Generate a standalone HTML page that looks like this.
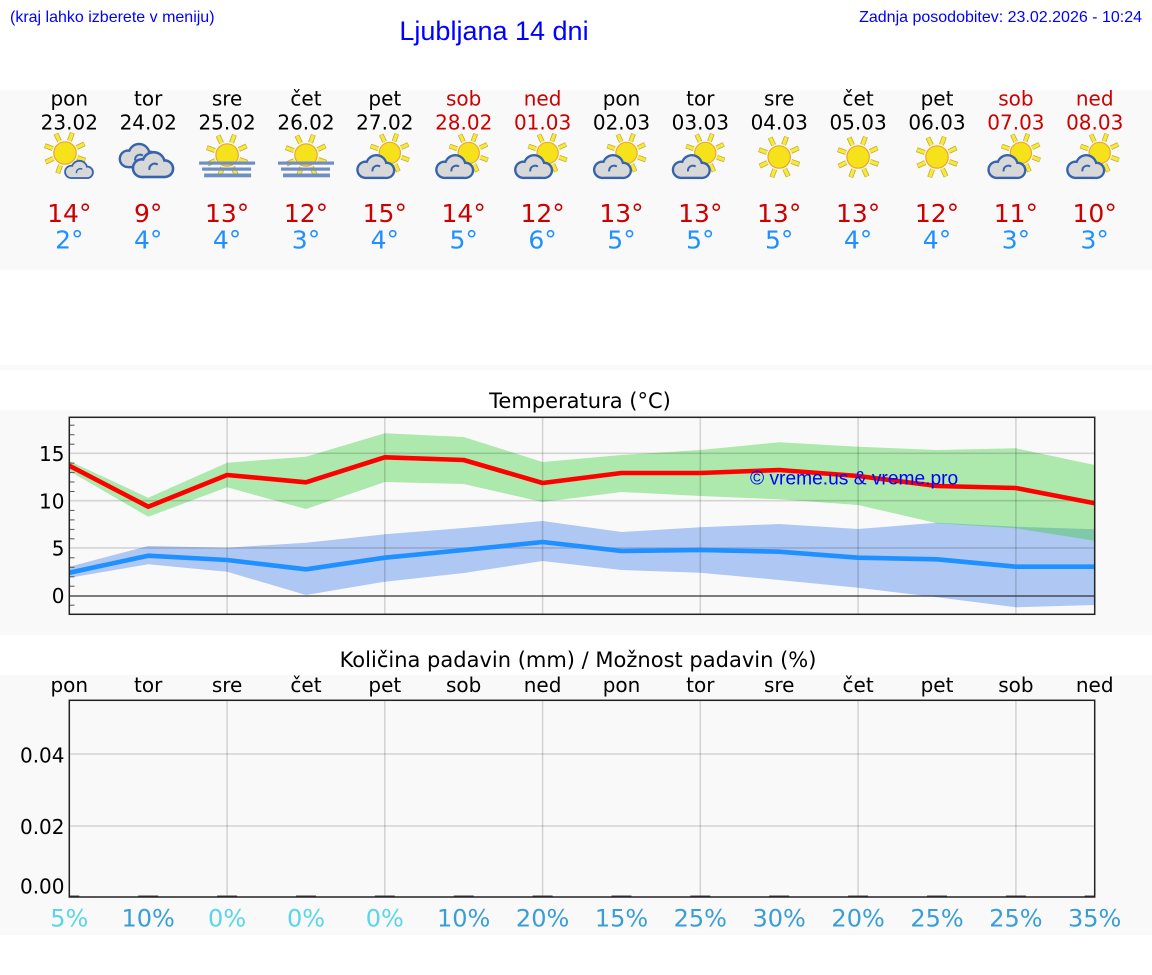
<!DOCTYPE html>
<html>
<head>
<meta charset="utf-8">
<style>
  html,body{margin:0;padding:0;background:#ffffff;}
  svg{display:block;}
</style>
</head>
<body>
<svg width="1152" height="975" viewBox="0 0 1152 975" xmlns="http://www.w3.org/2000/svg">
  <defs>
    <g id="sunI">
      <g transform="rotate(20)">
        <g stroke="#c9a830" stroke-width="5" stroke-linecap="butt">
          <line x1="13" y1="0" x2="21.5" y2="0"/>
          <line x1="9.19" y1="9.19" x2="15.2" y2="15.2"/>
          <line x1="0" y1="13" x2="0" y2="21.5"/>
          <line x1="-9.19" y1="9.19" x2="-15.2" y2="15.2"/>
          <line x1="-13" y1="0" x2="-21.5" y2="0"/>
          <line x1="-9.19" y1="-9.19" x2="-15.2" y2="-15.2"/>
          <line x1="0" y1="-13" x2="0" y2="-21.5"/>
          <line x1="9.19" y1="-9.19" x2="15.2" y2="-15.2"/>
        </g>
        <g stroke="#f4ea3c" stroke-width="3.4" stroke-linecap="butt">
          <line x1="13" y1="0" x2="21" y2="0"/>
          <line x1="9.19" y1="9.19" x2="14.85" y2="14.85"/>
          <line x1="0" y1="13" x2="0" y2="21"/>
          <line x1="-9.19" y1="9.19" x2="-14.85" y2="14.85"/>
          <line x1="-13" y1="0" x2="-21" y2="0"/>
          <line x1="-9.19" y1="-9.19" x2="-14.85" y2="-14.85"/>
          <line x1="0" y1="-13" x2="0" y2="-21"/>
          <line x1="9.19" y1="-9.19" x2="14.85" y2="-14.85"/>
        </g>
      </g>
      <circle cx="0" cy="0" r="11.2" fill="#f5e21a" stroke="#eda52a" stroke-width="1.2"/>
    </g>
    <g id="cloudI">
      <g fill="#3563ae">
        <circle cx="-9.5" cy="3.5" r="8.6"/>
        <circle cx="0.5" cy="-0.5" r="10.6"/>
        <circle cx="10" cy="4" r="8.1"/>
        <rect x="-9.5" y="3.5" width="19.5" height="8.6"/>
      </g>
      <g fill="#d8d8d8">
        <circle cx="-9.5" cy="3.5" r="6.4"/>
        <circle cx="0.5" cy="-0.5" r="8.4"/>
        <circle cx="10" cy="4" r="5.9"/>
        <rect x="-9.5" y="3.5" width="19.5" height="6.4"/>
      </g>
      <path d="M -3,5 a 4.5 4.5 0 0 1 7 -4.5" fill="none" stroke="#3563ae" stroke-width="1.8"/>
    </g>
    <g id="fogI">
      <use href="#sunI" transform="translate(0,-2)"/>
      <rect x="-28" y="4.5" width="56" height="3.2" fill="#6f8fc4"/>
      <rect x="-25" y="10.5" width="49" height="3.2" fill="#6f8fc4"/>
      <rect x="-23" y="16.5" width="47" height="3.8" fill="#6f8fc4"/>
    </g>
    <clipPath id="tclip"><rect x="69.3" y="417.3" width="1025.4" height="197"/></clipPath>
    <clipPath id="pclip"><rect x="69.3" y="700.3" width="1025.4" height="196.7"/></clipPath>
  </defs>

  <!-- header -->
  <g font-family="Liberation Sans, Arial, sans-serif" fill="#0000ff">
    <text x="10" y="22" font-size="16">(kraj lahko izberete v meniju)</text>
    <text x="494" y="40" font-size="27" text-anchor="middle">Ljubljana 14 dni</text>
    <text x="1142" y="22" font-size="16" text-anchor="end">Zadnja posodobitev: 23.02.2026 - 10:24</text>
  </g>

  <!-- panels -->
  <rect x="0" y="90" width="1152" height="180" fill="#f9f9f9"/>
  <rect x="0" y="365" width="1152" height="5" fill="#f9f9f9"/>
  <rect x="0" y="410" width="1152" height="225" fill="#f9f9f9"/>
  <rect x="0" y="675" width="1152" height="260" fill="#f9f9f9"/>

  <!-- day names -->
  <g font-family="DejaVu Sans, sans-serif" font-size="20" text-anchor="middle" fill="#000">
    <text x="69.3" y="105.5">pon</text>
    <text x="148.2" y="105.5">tor</text>
    <text x="227.1" y="105.5">sre</text>
    <text x="306" y="105.5">čet</text>
    <text x="384.8" y="105.5">pet</text>
    <text x="463.7" y="105.5" fill="#cc0000">sob</text>
    <text x="542.6" y="105.5" fill="#cc0000">ned</text>
    <text x="621.5" y="105.5">pon</text>
    <text x="700.3" y="105.5">tor</text>
    <text x="779.2" y="105.5">sre</text>
    <text x="858.1" y="105.5">čet</text>
    <text x="937" y="105.5">pet</text>
    <text x="1015.9" y="105.5" fill="#cc0000">sob</text>
    <text x="1094.7" y="105.5" fill="#cc0000">ned</text>

    <text x="69.3" y="129.5">23.02</text>
    <text x="148.2" y="129.5">24.02</text>
    <text x="227.1" y="129.5">25.02</text>
    <text x="306" y="129.5">26.02</text>
    <text x="384.8" y="129.5">27.02</text>
    <text x="463.7" y="129.5" fill="#cc0000">28.02</text>
    <text x="542.6" y="129.5" fill="#cc0000">01.03</text>
    <text x="621.5" y="129.5">02.03</text>
    <text x="700.3" y="129.5">03.03</text>
    <text x="779.2" y="129.5">04.03</text>
    <text x="858.1" y="129.5">05.03</text>
    <text x="937" y="129.5">06.03</text>
    <text x="1015.9" y="129.5" fill="#cc0000">07.03</text>
    <text x="1094.7" y="129.5" fill="#cc0000">08.03</text>
  </g>

  <!-- icons -->
  <use href="#sunI" transform="translate(65,153)"/>
  <use href="#cloudI" transform="translate(79,169) scale(0.82)"/>
  <use href="#cloudI" transform="translate(138.5,155) scale(1.1)"/>
  <use href="#cloudI" transform="translate(153,164) scale(1.18)"/>
  <use href="#fogI" transform="translate(227.1,157)"/>
  <use href="#fogI" transform="translate(306,157)"/>
  <use href="#sunI" transform="translate(389.8,153) scale(0.95)"/>
  <use href="#cloudI" transform="translate(375.8,166) scale(1.08)"/>
  <use href="#sunI" transform="translate(468.7,153) scale(0.95)"/>
  <use href="#cloudI" transform="translate(454.7,166) scale(1.08)"/>
  <use href="#sunI" transform="translate(547.6,153) scale(0.95)"/>
  <use href="#cloudI" transform="translate(533.6,166) scale(1.08)"/>
  <use href="#sunI" transform="translate(626.5,153) scale(0.95)"/>
  <use href="#cloudI" transform="translate(612.5,166) scale(1.08)"/>
  <use href="#sunI" transform="translate(705.3,153) scale(0.95)"/>
  <use href="#cloudI" transform="translate(691.3,166) scale(1.08)"/>
  <use href="#sunI" transform="translate(779.2,157)"/>
  <use href="#sunI" transform="translate(858.1,157)"/>
  <use href="#sunI" transform="translate(937,157)"/>
  <use href="#sunI" transform="translate(1020.9,153) scale(0.95)"/>
  <use href="#cloudI" transform="translate(1006.9,166) scale(1.08)"/>
  <use href="#sunI" transform="translate(1099.7,153) scale(0.95)"/>
  <use href="#cloudI" transform="translate(1085.7,166) scale(1.08)"/>

  <!-- temps -->
  <g font-family="DejaVu Sans, sans-serif" font-size="25" text-anchor="middle" fill="#cc0000">
    <text x="69.3" y="222">14°</text>
    <text x="148.2" y="222">9°</text>
    <text x="227.1" y="222">13°</text>
    <text x="306" y="222">12°</text>
    <text x="384.8" y="222">15°</text>
    <text x="463.7" y="222">14°</text>
    <text x="542.6" y="222">12°</text>
    <text x="621.5" y="222">13°</text>
    <text x="700.3" y="222">13°</text>
    <text x="779.2" y="222">13°</text>
    <text x="858.1" y="222">13°</text>
    <text x="937" y="222">12°</text>
    <text x="1015.9" y="222">11°</text>
    <text x="1094.7" y="222">10°</text>
  </g>
  <g font-family="DejaVu Sans, sans-serif" font-size="25" text-anchor="middle" fill="#1e90ff">
    <text x="69.3" y="248.5">2°</text>
    <text x="148.2" y="248.5">4°</text>
    <text x="227.1" y="248.5">4°</text>
    <text x="306" y="248.5">3°</text>
    <text x="384.8" y="248.5">4°</text>
    <text x="463.7" y="248.5">5°</text>
    <text x="542.6" y="248.5">6°</text>
    <text x="621.5" y="248.5">5°</text>
    <text x="700.3" y="248.5">5°</text>
    <text x="779.2" y="248.5">5°</text>
    <text x="858.1" y="248.5">4°</text>
    <text x="937" y="248.5">4°</text>
    <text x="1015.9" y="248.5">3°</text>
    <text x="1094.7" y="248.5">3°</text>
  </g>

  <!-- temperature chart -->
  <text x="580" y="408" font-family="DejaVu Sans, sans-serif" font-size="21" text-anchor="middle" fill="#000">Temperatura (°C)</text>
  <rect x="69.3" y="417.3" width="1025.4" height="197" fill="#f9f9f9"/>
  <g clip-path="url(#tclip)">
    <polygon fill="#6495ed" fill-opacity="0.5" points="69.3,566.7 148.2,546 227.1,547.7 306,542.7 384.8,534.3 463.7,528 542.6,521 621.5,532 700.3,527.3 779.2,524 858.1,529 937,522.7 1015.9,526.7 1094.7,529.3 1094.7,605 1015.9,607.3 937,597.3 858.1,587.7 779.2,580 700.3,572.7 621.5,570 542.6,561 463.7,573 384.8,581.7 306,595 227.1,571.7 148.2,564.3 69.3,577.7"/>
    <polygon fill="#32cd32" fill-opacity="0.38" points="69.3,461 148.2,497.7 227.1,462.7 306,456.7 384.8,433.3 463.7,437 542.6,462 621.5,455 700.3,450 779.2,442.3 858.1,446.7 937,450 1015.9,448.3 1094.7,465 1094.7,540.7 1015.9,528.3 937,523.3 858.1,505 779.2,499.3 700.3,496 621.5,492 542.6,502 463.7,484 384.8,482 306,509 227.1,487.3 148.2,516.7 69.3,471"/>
    <g stroke="#000" stroke-opacity="0.15" stroke-width="1.6">
      <line x1="69.3" y1="453.3" x2="1094.7" y2="453.3"/>
      <line x1="69.3" y1="500.7" x2="1094.7" y2="500.7"/>
      <line x1="69.3" y1="547.9" x2="1094.7" y2="547.9"/>
      <line x1="227.1" y1="417.3" x2="227.1" y2="614.3"/>
      <line x1="384.8" y1="417.3" x2="384.8" y2="614.3"/>
      <line x1="542.6" y1="417.3" x2="542.6" y2="614.3"/>
      <line x1="700.3" y1="417.3" x2="700.3" y2="614.3"/>
      <line x1="858.1" y1="417.3" x2="858.1" y2="614.3"/>
      <line x1="1015.9" y1="417.3" x2="1015.9" y2="614.3"/>
    </g>
    <line x1="69.3" y1="596" x2="1094.7" y2="596" stroke="#333" stroke-width="1.2"/>
    <polyline fill="none" stroke="#ff0000" stroke-width="4.6" stroke-linejoin="round" points="69.3,465.7 148.2,506.7 227.1,475 306,482.3 384.8,457.3 463.7,460 542.6,483 621.5,473 700.3,473 779.2,470 858.1,476 937,486 1015.9,488 1094.7,503.3"/>
    <polyline fill="none" stroke="#1e90ff" stroke-width="4.6" stroke-linejoin="round" points="69.3,572.7 148.2,555.7 227.1,560 306,569.3 384.8,557.7 463.7,550 542.6,542 621.5,551 700.3,550 779.2,551.7 858.1,557.7 937,559.3 1015.9,566.7 1094.7,566.7"/>
  </g>
  <g stroke="#555" stroke-width="1">
    <line x1="69.3" y1="605.2" x2="74.5" y2="605.2"/>
    <line x1="69.3" y1="586.2" x2="74.5" y2="586.2"/>
    <line x1="69.3" y1="576.8" x2="74.5" y2="576.8"/>
    <line x1="69.3" y1="567.3" x2="74.5" y2="567.3"/>
    <line x1="69.3" y1="557.8" x2="74.5" y2="557.8"/>
    <line x1="69.3" y1="538.8" x2="74.5" y2="538.8"/>
    <line x1="69.3" y1="529.4" x2="74.5" y2="529.4"/>
    <line x1="69.3" y1="519.9" x2="74.5" y2="519.9"/>
    <line x1="69.3" y1="510.4" x2="74.5" y2="510.4"/>
    <line x1="69.3" y1="491.5" x2="74.5" y2="491.5"/>
    <line x1="69.3" y1="482.0" x2="74.5" y2="482.0"/>
    <line x1="69.3" y1="472.6" x2="74.5" y2="472.6"/>
    <line x1="69.3" y1="463.1" x2="74.5" y2="463.1"/>
    <line x1="69.3" y1="444.2" x2="74.5" y2="444.2"/>
    <line x1="69.3" y1="434.7" x2="74.5" y2="434.7"/>
    <line x1="69.3" y1="425.2" x2="74.5" y2="425.2"/>
  </g>
  <rect x="69.3" y="417.3" width="1025.4" height="197" fill="none" stroke="#222" stroke-width="1.5"/>
  <g font-family="DejaVu Sans, sans-serif" font-size="20" text-anchor="end" fill="#000">
    <text x="64.5" y="461">15</text>
    <text x="64.5" y="508.5">10</text>
    <text x="64.5" y="555.5">5</text>
    <text x="64.5" y="603">0</text>
  </g>
  <text x="750" y="484.5" font-family="Liberation Sans, Arial, sans-serif" font-size="19.2" fill="#0000ff">© vreme.us &amp; vreme.pro</text>

  <!-- precipitation chart -->
  <text x="578" y="667" font-family="DejaVu Sans, sans-serif" font-size="21" text-anchor="middle" fill="#000">Količina padavin (mm) / Možnost padavin (%)</text>
  <g font-family="DejaVu Sans, sans-serif" font-size="20" text-anchor="middle" fill="#000">
    <text x="69.3" y="692">pon</text>
    <text x="148.2" y="692">tor</text>
    <text x="227.1" y="692">sre</text>
    <text x="306" y="692">čet</text>
    <text x="384.8" y="692">pet</text>
    <text x="463.7" y="692">sob</text>
    <text x="542.6" y="692">ned</text>
    <text x="621.5" y="692">pon</text>
    <text x="700.3" y="692">tor</text>
    <text x="779.2" y="692">sre</text>
    <text x="858.1" y="692">čet</text>
    <text x="937" y="692">pet</text>
    <text x="1015.9" y="692">sob</text>
    <text x="1094.7" y="692">ned</text>
  </g>
  <rect x="69.3" y="700.3" width="1025.4" height="196.7" fill="#f9f9f9"/>
  <g clip-path="url(#pclip)">
    <g stroke="#000" stroke-opacity="0.15" stroke-width="1.6">
      <line x1="69.3" y1="754" x2="1094.7" y2="754"/>
      <line x1="69.3" y1="826" x2="1094.7" y2="826"/>
      <line x1="227.1" y1="700.3" x2="227.1" y2="897"/>
      <line x1="384.8" y1="700.3" x2="384.8" y2="897"/>
      <line x1="542.6" y1="700.3" x2="542.6" y2="897"/>
      <line x1="700.3" y1="700.3" x2="700.3" y2="897"/>
      <line x1="858.1" y1="700.3" x2="858.1" y2="897"/>
      <line x1="1015.9" y1="700.3" x2="1015.9" y2="897"/>
    </g>
    <g fill="#444">
      <rect x="59.3" y="895.5" width="20" height="2.5"/>
      <rect x="138.2" y="895.5" width="20" height="2.5"/>
      <rect x="217.1" y="895.5" width="20" height="2.5"/>
      <rect x="296" y="895.5" width="20" height="2.5"/>
      <rect x="374.8" y="895.5" width="20" height="2.5"/>
      <rect x="453.7" y="895.5" width="20" height="2.5"/>
      <rect x="532.6" y="895.5" width="20" height="2.5"/>
      <rect x="611.5" y="895.5" width="20" height="2.5"/>
      <rect x="690.3" y="895.5" width="20" height="2.5"/>
      <rect x="769.2" y="895.5" width="20" height="2.5"/>
      <rect x="848.1" y="895.5" width="20" height="2.5"/>
      <rect x="927" y="895.5" width="20" height="2.5"/>
      <rect x="1005.9" y="895.5" width="20" height="2.5"/>
      <rect x="1084.7" y="895.5" width="20" height="2.5"/>
    </g>
  </g>
  <rect x="69.3" y="700.3" width="1025.4" height="196.7" fill="none" stroke="#222" stroke-width="1.5"/>
  <g font-family="DejaVu Sans, sans-serif" font-size="20" text-anchor="end" fill="#000">
    <text x="64.5" y="762.5">0.04</text>
    <text x="64.5" y="834">0.02</text>
    <text x="64.5" y="893.5">0.00</text>
  </g>
  <g font-family="DejaVu Sans, sans-serif" font-size="24" text-anchor="middle" fill="#3a9ed6">
    <text x="69.3" y="926.5" fill="#5ad6e8">5%</text>
    <text x="148.2" y="926.5">10%</text>
    <text x="227.1" y="926.5" fill="#5ad6e8">0%</text>
    <text x="306" y="926.5" fill="#5ad6e8">0%</text>
    <text x="384.8" y="926.5" fill="#5ad6e8">0%</text>
    <text x="463.7" y="926.5">10%</text>
    <text x="542.6" y="926.5">20%</text>
    <text x="621.5" y="926.5">15%</text>
    <text x="700.3" y="926.5">25%</text>
    <text x="779.2" y="926.5">30%</text>
    <text x="858.1" y="926.5">20%</text>
    <text x="937" y="926.5">25%</text>
    <text x="1015.9" y="926.5">25%</text>
    <text x="1094.7" y="926.5">35%</text>
  </g>
</svg>
</body>
</html>
